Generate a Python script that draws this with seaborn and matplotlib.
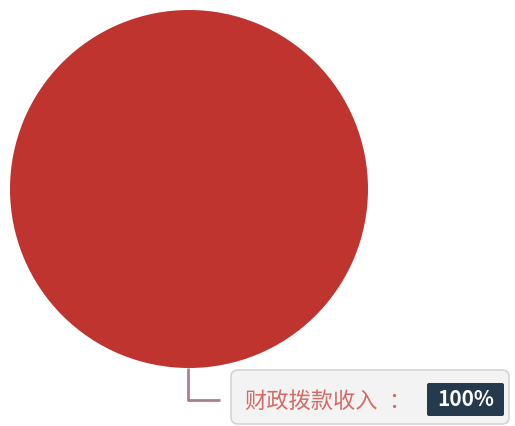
import matplotlib
matplotlib.use("Agg")
import matplotlib.pyplot as plt
from matplotlib.patches import FancyBboxPatch
import seaborn as sns

categories = ["财政拨款收入"]
values = [100]
value_labels = ["100%"]

sns.set_theme(style="white")
plt.rcParams['font.family'] = ['Noto Sans CJK SC', 'DejaVu Sans']

fig = plt.figure(figsize=(5.15, 4.26), dpi=100)
ax = fig.add_axes([0, 0, 1, 1])

colors = ["#c0342f"]
ax.pie(values, colors=colors, center=(189, 189), radius=179, startangle=90,
       wedgeprops=dict(linewidth=0), frame=True)
ax.set_xlim(0, 515)
ax.set_ylim(426, 0)
ax.set_aspect('equal')
ax.axis('off')

# leader line
ax.plot([188, 188, 220], [368, 400, 400], color="#a88088", lw=2, solid_capstyle='butt')

# label box
box = FancyBboxPatch((231, 370), 278, 54, boxstyle="round,pad=0,rounding_size=7",
                     facecolor="#f3f3f3", edgecolor="#d4d4d4", lw=1.2)
ax.add_patch(box)
ax.text(244, 401, categories[0], color="#d66a66", fontsize=16,
        va='center', ha='left')
ax.text(399, 401, "：", color="#d66a66", fontsize=16, va='center', ha='center')
vbox = FancyBboxPatch((427, 383), 77, 33, boxstyle="round,pad=0,rounding_size=2",
                      facecolor="#263a4e", edgecolor="none")
ax.add_patch(vbox)
ax.text(465.5, 400, value_labels[0], color="white", fontsize=15, va='center',
        ha='center', fontweight='bold')

fig.savefig("out.png", dpi=100)
